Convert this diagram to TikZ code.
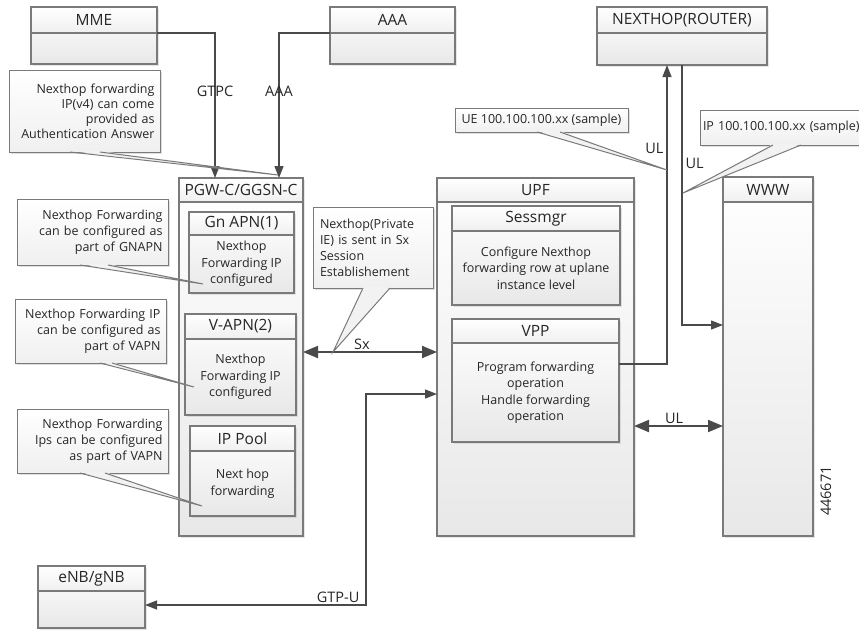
\documentclass[tikz,border=0pt]{standalone}
\usepackage{fontspec}
\setmainfont{Open Sans}
\usetikzlibrary{arrows.meta,shadows}

\definecolor{boxline}{HTML}{7A7A7A}
\definecolor{boxbot}{HTML}{E8E8E8}
\definecolor{linedark}{HTML}{4A4A4A}

\tikzset{
  unit/.style={draw=boxline, line width=1.1pt, top color=white, bottom color=boxbot,
    inner sep=0pt, outer sep=0pt,
    drop shadow={shadow xshift=1.5pt, shadow yshift=-1.5pt, opacity=.2}},
  head/.style={draw=boxline, line width=1.1pt, top color=white, bottom color=black!6},
  headtext/.style={font=\fontsize{15.5}{18}\selectfont, text=black!85, inner sep=0pt},
  bodytext/.style={font=\fontsize{12.5}{16.5}\selectfont, align=center, text=black!85, inner sep=0pt},
  note/.style={draw=boxline, line width=1pt, top color=white, bottom color=black!6,
    font=\fontsize{12.5}{16}\selectfont, text=black!85, inner xsep=10pt, inner ysep=3pt,
    outer sep=0pt, anchor=north west,
    drop shadow={shadow xshift=1.5pt, shadow yshift=-1.5pt, opacity=.25}},
  sidenote/.style={note, minimum width=151pt, inner xsep=5.5pt, text width=140pt, align=right},
  lbl/.style={font=\fontsize{14.5}{17}\selectfont, text=black!85},
  conn/.style={draw=linedark, line width=1.3pt, >={Triangle[length=12pt,width=9pt]}},
  bold/.style={draw=linedark, line width=2pt, >={Triangle[length=15pt,width=12pt]}},
}

% box with a header band: name, left, top, right, bottom, header height, title, body
\newcommand{\headbox}[8]{%
  \node[unit, anchor=north west, minimum width={(#4-#2)*1pt},
    minimum height={(#5-#3)*1pt}] (#1) at (#2,#3) {};
  \shade[head] (#1.north west) rectangle ([yshift=-#6pt]#1.north east);
  \node[headtext] (#1-head) at ([yshift=-#6pt/2]#1.north) {#7};
  \if\relax\detokenize{#8}\relax\else
    \node[bodytext] (#1-body) at ([yshift=-#6pt/2]#1.center) {#8};
  \fi
}

% pointer of a note: note, base x1, base x2, tip
\newcommand{\notetip}[4]{%
  \path (#2,0 |- #1.south) coordinate (#1-b1) (#3,0 |- #1.south) coordinate (#1-b2);
  \fill[black!5] ([yshift=1pt]#1-b1) -- (#4) -- ([yshift=1pt]#1-b2) -- cycle;
  \draw[boxline, line width=1pt] (#1-b1) -- (#4) -- (#1-b2);
}

\begin{document}
\begin{tikzpicture}[x=1pt, y=-1pt]
  \useasboundingbox (0,0) rectangle (859,630);
  \clip (0,0) rectangle (859,630);

  \headbox{mme}{31}{7}{157}{64}{26}{MME}{}
  \headbox{aaa}{330}{7}{455}{64}{26}{AAA}{}
  \headbox{nh}{597}{7}{767}{65}{26}{NEXTHOP(ROUTER)}{}
  \headbox{pgw}{179}{178}{303}{536}{24}{PGW-C/GGSN-C}{}
  \headbox{gnapn}{189}{212}{294}{293}{23}{Gn APN(1)}{Nexthop\\Forwarding IP\\configured}
  \headbox{vapn}{185}{314}{296}{415}{25}{V-APN(2)}{Nexthop\\Forwarding IP\\configured}
  \headbox{ippool}{190}{426}{295}{516}{25}{IP Pool}{Next hop\\forwarding}
  \headbox{upf}{437}{178}{634}{536}{24}{UPF}{}
  \headbox{sessmgr}{452}{206}{620}{305}{25}{Sessmgr}{Configure Nexthop\\forwarding row at uplane\\instance level}
  \headbox{vpp}{452}{319}{619}{442}{24}{VPP}{Program forwarding\\operation\\Handle forwarding\\operation}
  \headbox{www}{723}{177}{813}{536}{25}{WWW}{}
  \headbox{enb}{38}{566}{145}{628}{25}{eNB/gNB}{}

  \draw[conn, ->] ([yshift=-26pt]mme.north east) -| ([xshift=-26pt]pgw.north) node[lbl, pos=0.7] {GTPC};
  \draw[conn, ->] ([yshift=-26pt]aaa.north west) -| ([xshift=38pt]pgw.north) node[lbl, pos=0.7] {AAA};

  \coordinate (sx) at ([yshift=5pt]pgw.east);
  \draw[bold, <->] (sx) -- (sx -| upf.west) node[lbl, pos=0.44, above, inner sep=1pt] {Sx};

  \coordinate (ul) at ([yshift=-69pt]upf.east);
  \draw[bold, <->] (ul) -- (ul -| www.west) node[lbl, pos=0.45, above, inner sep=1pt] {UL};

  \draw[conn, ->] ([yshift=16.5pt]vpp.east) -| ([xshift=-15pt]nh.south) node[lbl, pos=0.86, anchor=east, inner sep=3pt] {UL};
  \draw[conn, ->] (nh.south) |- ([yshift=31.5pt]www.west) node[lbl, pos=0.19, anchor=west, inner sep=3pt] {UL};

  \coordinate (gtpu) at (366,605);
  \draw[conn, <->] ([yshift=-8pt]enb.east) -- (gtpu) node[lbl, anchor=south east, inner xsep=6pt, inner ysep=2pt] {GTP-U} |- ([yshift=-37pt]upf.west);

  \node[lbl, rotate=90] (figno) at (826,491) {446671};

  \node[sidenote, minimum height=82pt, font=\fontsize{12.5}{15}\selectfont] (noteauth) at (9,70) {Nexthop forwarding\\IP(v4) can come\\provided as\\Authentication Answer};
  \notetip{noteauth}{70}{100}{278,175}
  \node[sidenote, minimum height=66pt] (notegn) at (17,199) {Nexthop Forwarding\\can be configured as\\part of GNAPN};
  \notetip{notegn}{80}{108}{203,284}
  \node[sidenote, minimum height=64pt] (notevapn) at (15,299) {Nexthop Forwarding IP\\can be configured as\\part of VAPN};
  \notetip{notevapn}{100}{112}{194,387}
  \node[sidenote, minimum height=64pt] (notepool) at (17,409) {Nexthop Forwarding\\Ips can be configured\\as part of VAPN};
  \notetip{notepool}{80}{105}{202,506}
  \node[note, minimum width=120pt, minimum height=81pt, inner xsep=7pt, text width=106pt, align=left] (notesx) at (313,207) {Nexthop(Private\\IE) is sent in Sx\\Session\\Establishement};
  \notetip{notesx}{363}{390}{333,352}
  \node[note, minimum width=173pt, minimum height=24pt, inner xsep=4pt] (noteue) at (455,108) {UE 100.100.100.xx (sample)};
  \notetip{noteue}{537}{560}{667,170}
  \node[note, minimum height=35pt, inner xsep=3pt, text width=170pt, align=left] (noteip) at (700,110) {IP 100.100.100.xx (sample)};
  \notetip{noteip}{773}{801}{683,193}
\end{tikzpicture}
\end{document}
